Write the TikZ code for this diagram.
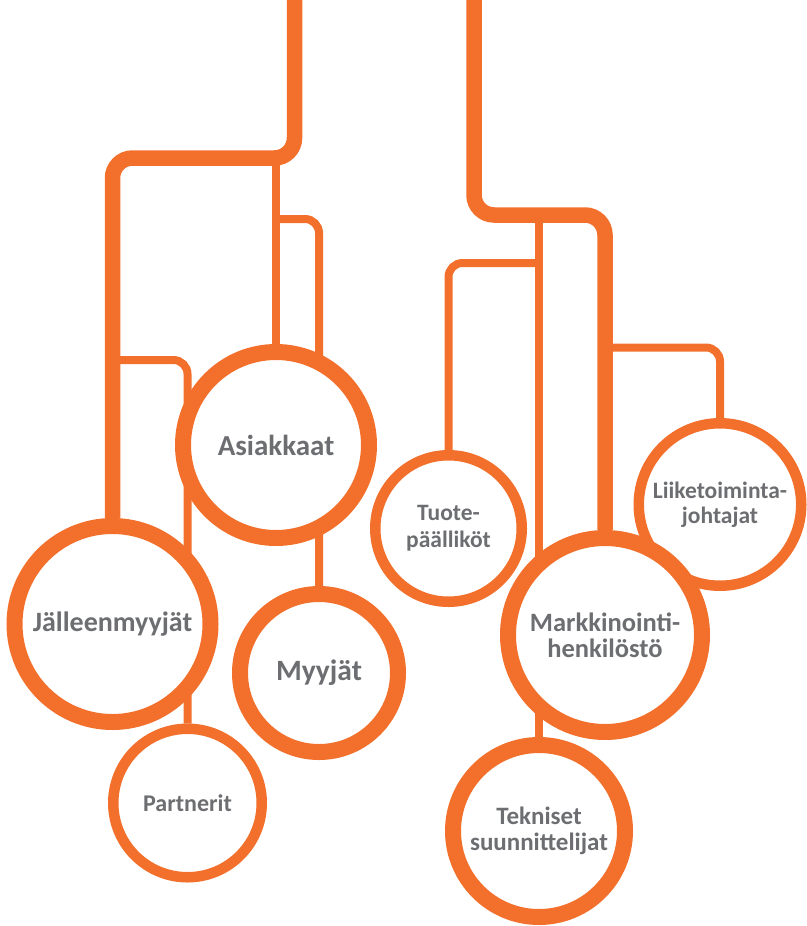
\documentclass[tikz,border=0pt]{standalone}
\usepackage{fontspec}
\setmainfont{Carlito}
\usetikzlibrary{backgrounds}
\definecolor{ringorange}{RGB}{242,112,44}
\definecolor{labelgray}{RGB}{109,110,113}

\begin{document}
\begin{tikzpicture}[
        x=1pt, y=-1pt,
        ring/.style={
            circle,
            draw=ringorange,
            fill=white,
            line width=16pt,
            inner sep=0pt,
            align=center,
            text=labelgray,
            font=\bfseries\fontsize{29}{29}\selectfont
        },
        smallring/.style={
            ring,
            line width=10.5pt,
            font=\bfseries\fontsize{23.5}{26}\selectfont
        },
        trunk/.style={
            draw=ringorange,
            line width=15.5pt,
            rounded corners=20pt
        },
        branch/.style={
            draw=ringorange,
            line width=8pt,
            rounded corners=14pt
        }
    ]

        \useasboundingbox (0,0) rectangle (806,926);

        \node[ring, minimum size=186pt] (asiakkaat) at (276,445)
            {Asiakkaat};
        \node[ring, minimum size=196pt,
              font=\bfseries\fontsize{28}{28}\selectfont] (jalleenmyyjat) at (112.5,624)
            {Jälleenmyyjät};
        \node[ring, minimum size=158pt,
              font=\bfseries\fontsize{29.5}{29.5}\selectfont] (myyjat) at (319,673)
            {Myyjät};
        \node[smallring, minimum size=148.5pt,
              font=\bfseries\fontsize{24}{26}\selectfont] (partnerit) at (187.5,803)
            {Partnerit};

        \node[smallring, minimum size=146.5pt,
              font=\bfseries\fontsize{23.5}{27}\selectfont] (tuote) at (448.5,528.5)
            {Tuote-\\päälliköt};
        \node[smallring, minimum size=162.5pt,
              font=\bfseries\fontsize{23.5}{25}\selectfont] (liiketoiminta) at (720,504.5)
            {Liiketoiminta-\\johtajat};
        \node[ring, minimum size=194pt,
              font=\bfseries\fontsize{26.5}{26}\selectfont] (markkinointi) at (605,635)
            {Markkinointi-\\henkilöstö};
        \node[ring, minimum size=172pt,
              font=\bfseries\fontsize{25}{26}\selectfont] (tekniset) at (539,831)
            {Tekniset\\suunnittelijat};

        \coordinate (ltop) at (294.5,0);
        \coordinate (rtop) at (474,0);
        \coordinate (asiakkaat-in) at (276,158);
        \coordinate (myyjat-in) at (276,219);
        \coordinate (partnerit-in) at (112.5,360);
        \coordinate (tekniset-in) at (539,215);
        \coordinate (tuote-in) at (539,263);
        \coordinate (liiketoiminta-in) at (605,347.5);

        \begin{pgfonlayer}{background}
            \draw[trunk] (ltop) -- ++(0,158) -| (jalleenmyyjat.north);
            \draw[branch] (asiakkaat-in) -- (asiakkaat.north);
            \draw[branch] (myyjat-in) -| (myyjat.north);
            \draw[branch] (partnerit-in) -| (partnerit.north);

            \draw[trunk] (rtop) -- ++(0,215) -| (markkinointi.north);
            \draw[branch] (tekniset-in) -- (tekniset.north);
            \draw[branch] (tuote-in) -| (tuote.north);
            \draw[branch] (liiketoiminta-in) -| (liiketoiminta.north);
        \end{pgfonlayer}

    \end{tikzpicture}
\end{document}
